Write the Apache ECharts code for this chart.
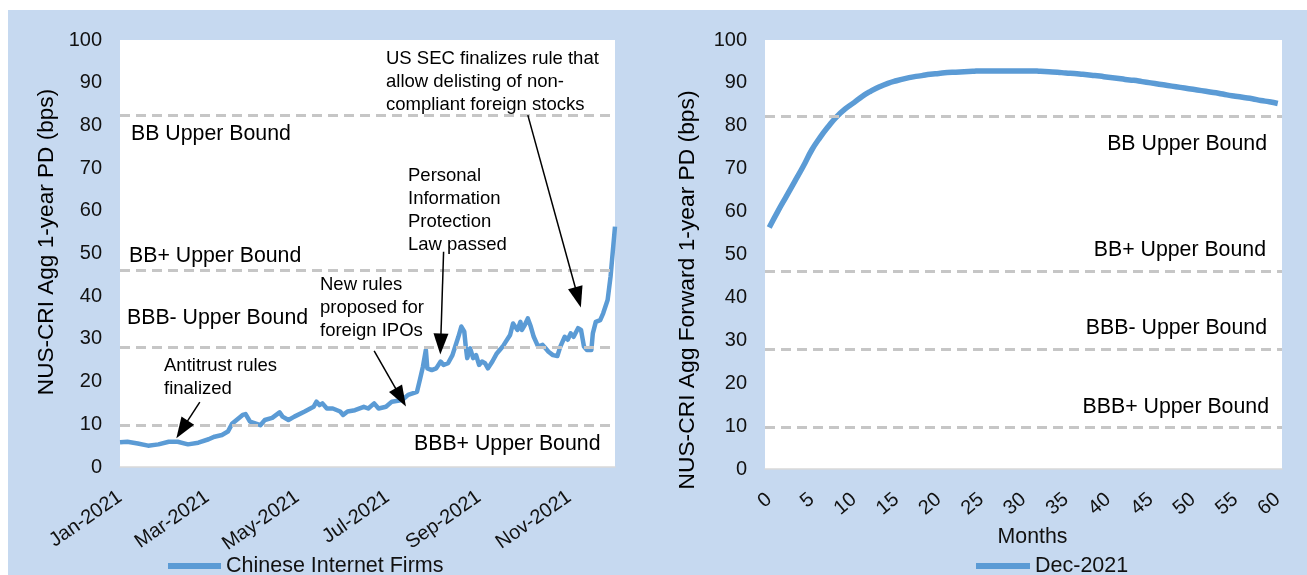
<!DOCTYPE html>
<html>
<head>
<meta charset="utf-8">
<script src="https://cdn.jsdelivr.net/npm/echarts@6/dist/echarts.min.js"></script>
<style>
  html, body { margin: 0; padding: 0; background: #fff; }
  #chart { width: 1307px; height: 575px; }
</style>
</head>
<body>
<div id="chart"></div>
<script>
// left panel: readings of the aggregate PD (bps)
const firmDates = [
  '2021-01-01','2021-01-06','2021-01-13','2021-01-20','2021-01-27','2021-02-03','2021-02-09','2021-02-16','2021-02-23',
  '2021-03-02','2021-03-06','2021-03-11','2021-03-15','2021-03-18','2021-03-25','2021-03-27','2021-03-30',
  '2021-04-06','2021-04-09','2021-04-14','2021-04-19','2021-04-21','2021-04-25','2021-04-29',
  '2021-05-06','2021-05-12','2021-05-14','2021-05-16','2021-05-18','2021-05-21','2021-05-25','2021-05-30',
  '2021-06-01','2021-06-04','2021-06-09','2021-06-15','2021-06-18','2021-06-22','2021-06-25','2021-06-30',
  '2021-07-04','2021-07-11','2021-07-15','2021-07-21','2021-07-23','2021-07-25','2021-07-27','2021-07-28','2021-07-31',
  '2021-08-03','2021-08-06','2021-08-08','2021-08-11','2021-08-14','2021-08-18','2021-08-20','2021-08-22','2021-08-23',
  '2021-08-24','2021-08-26','2021-08-28','2021-08-30',
  '2021-09-01','2021-09-03','2021-09-05','2021-09-07','2021-09-10','2021-09-13','2021-09-17','2021-09-19','2021-09-22',
  '2021-09-24','2021-09-27','2021-09-29','2021-09-30',
  '2021-10-02','2021-10-04','2021-10-06','2021-10-08','2021-10-11','2021-10-14','2021-10-16','2021-10-18','2021-10-21',
  '2021-10-24','2021-10-26','2021-10-29','2021-10-31',
  '2021-11-02','2021-11-04','2021-11-07','2021-11-09','2021-11-11','2021-11-13','2021-11-16','2021-11-17','2021-11-19',
  '2021-11-22','2021-11-24','2021-11-27','2021-11-29','2021-11-30','2021-12-02'
];
const firmPD = [
  5.8, 5.9, 5.5, 5.0, 5.3, 5.9, 5.9, 5.3, 5.7,
  6.5, 7.1, 7.5, 8.3, 10.2, 12.2, 12.4, 10.6,
  9.8, 11.0, 11.5, 12.8, 11.8, 11.0, 11.8,
  13.0, 14.1, 15.3, 14.5, 14.9, 13.7, 13.7, 13.0,
  12.2, 13.0, 13.3, 14.1, 13.7, 14.9, 13.7, 14.1,
  15.3, 15.7, 16.9, 17.6, 20.5, 23.5, 27.4, 23.1, 22.7,
  23.1, 24.7, 23.9, 24.3, 26.2, 30.5, 32.9, 31.7, 28.2,
  25.5, 27.8, 25.5, 26.2,
  23.9, 24.7, 24.3, 23.1, 24.7, 26.6, 28.2, 29.3, 30.9,
  33.6, 32.1, 34.0, 32.1,
  33.3, 34.8, 32.9, 30.5, 28.2, 28.6, 27.8, 27.0, 26.2,
  26.0, 28.2, 30.5, 29.8,
  31.3, 30.5, 32.5, 32.1, 28.2, 27.4, 27.4, 31.3, 34.0,
  34.4, 36.0, 39.1, 44.6, 48.5, 56.3
];

// right panel: forward PD term structure, months 0..60
const months = [];
for (let i = 0; i <= 60; i++) months.push(String(i));
const forwardPD = [
  56.3, 60.0, 63.5, 67.0, 70.5, 74.3, 77.3, 79.9, 82.2, 84.0,
  85.4, 86.9, 88.1, 89.1, 89.9, 90.5, 91.0, 91.4, 91.7, 92.0,
  92.2, 92.4, 92.5, 92.6, 92.7, 92.8, 92.8, 92.8, 92.8, 92.8,
  92.8, 92.8, 92.7, 92.6, 92.5, 92.3, 92.2, 92.0, 91.8, 91.6,
  91.3, 91.1, 90.8, 90.6, 90.3, 90.0, 89.7, 89.4, 89.1, 88.8,
  88.5, 88.2, 87.9, 87.6, 87.2, 86.9, 86.6, 86.3, 85.9, 85.6, 85.2
];

// rating upper bounds (bps)
const boundNames = ['BB Upper Bound', 'BB+ Upper Bound', 'BBB- Upper Bound', 'BBB+ Upper Bound'];
const boundValues = [82.3, 46.1, 28.0, 9.8];

const xLabelDates = ['2021-01-01', '2021-03-01', '2021-05-01', '2021-07-01', '2021-09-01', '2021-11-01'];
const monthNames = ['Jan','Feb','Mar','Apr','May','Jun','Jul','Aug','Sep','Oct','Nov','Dec'];

// event arrows: [from date, from value, to date, to value]
const arrows = [
  ['2021-02-24', 15.2, '2021-02-12', 8.8],
  ['2021-06-22', 27.2, '2021-07-10', 16.3],
  ['2021-08-08', 50.4, '2021-08-06', 28.8],
  ['2021-10-04', 82.4, '2021-11-07', 39.7]
];

const FONT = "'Liberation Sans', Arial, sans-serif";
const LINE_BLUE = '#5B9BD5';
const DASH_GRAY = '#C6C6C6';
const pd = s => echarts.number.parseDate(s).getTime();

const chart = echarts.init(document.getElementById('chart'));

function yAxisFor(grid) {
  return {
    type: 'value', gridIndex: grid, min: 0, max: 100, interval: 10,
    splitLine: { show: false }, axisLine: { show: false }, axisTick: { show: false },
    axisLabel: { fontSize: 20, color: '#111', fontFamily: FONT, margin: 18 }
  };
}

function boundLines() {
  return {
    silent: true, symbol: 'none',
    label: { show: false },
    lineStyle: { type: [10, 6], color: DASH_GRAY, width: 3 },
    data: boundValues.map(v => ({ yAxis: v }))
  };
}

function txt(text, x, y, opts) {
  return {
    type: 'text', x: x, y: y, z: 100,
    style: Object.assign({
      text: text, fill: '#000', fontFamily: FONT, fontSize: 18.5,
      align: 'left', verticalAlign: 'top', lineHeight: 23
    }, opts || {})
  };
}
const bound = (i, x, y, align) => txt(boundNames[i], x, y, { align: align, verticalAlign: 'middle', fontSize: 21.3 });

const leftTitle = txt('NUS-CRI Agg 1-year PD (bps)', 47, 242, { align: 'center', verticalAlign: 'middle', fontSize: 22.6, lineHeight: 24 });
leftTitle.rotation = Math.PI / 2;
const rightTitle = txt('NUS-CRI Agg Forward 1-year PD (bps)', 688, 290, { align: 'center', verticalAlign: 'middle', fontSize: 22.8, lineHeight: 24 });
rightTitle.rotation = Math.PI / 2;

const legendBase = {
  icon: 'rect', itemHeight: 6, padding: 0, top: 555,
  textStyle: { fontSize: 21.5, color: '#111', fontFamily: FONT }
};

const option = {
  animation: false,
  backgroundColor: '#C6D9F0',
  grid: [
    { left: 120, top: 40, width: 495, height: 427, show: true, backgroundColor: '#fff', borderWidth: 0, outerBoundsMode: 'none' },
    { left: 765, top: 40, width: 517, height: 429, show: true, backgroundColor: '#fff', borderWidth: 0, outerBoundsMode: 'none' }
  ],
  xAxis: [
    {
      type: 'value', gridIndex: 0, min: pd('2021-01-01'), max: pd('2021-12-02'),
      splitLine: { show: false }, axisTick: { show: false },
      axisLine: { lineStyle: { color: '#D9D9D9', width: 1.5 } },
      axisLabel: {
        customValues: xLabelDates.map(pd),
        formatter: v => { const d = new Date(v); return monthNames[d.getMonth()] + '-' + d.getFullYear(); },
        rotate: 35, margin: 28, fontSize: 20, color: '#111', fontFamily: FONT
      }
    },
    {
      type: 'category', gridIndex: 1, data: months, boundaryGap: true,
      axisTick: { show: false },
      axisLine: { lineStyle: { color: '#D9D9D9', width: 1.5 } },
      axisLabel: { interval: 4, rotate: 40, margin: 28, fontSize: 20, color: '#111', fontFamily: FONT },
      name: 'Months', nameLocation: 'middle', nameGap: 58, nameMoveOverlap: false,
      nameTextStyle: { fontSize: 21.3, color: '#111', fontFamily: FONT, padding: [0, 0, 0, 18] }
    }
  ],
  yAxis: [yAxisFor(0), yAxisFor(1)],
  legend: [
    Object.assign({ data: ['Chinese Internet Firms'], left: 168, itemWidth: 53 }, legendBase),
    Object.assign({ data: ['Dec-2021'], left: 976, itemWidth: 54 }, legendBase)
  ],
  series: [
    { name: 'bounds-left', type: 'line', xAxisIndex: 0, yAxisIndex: 0, data: [], z: 1, markLine: boundLines() },
    {
      name: 'events', type: 'line', xAxisIndex: 0, yAxisIndex: 0, data: [], z: 4,
      markLine: {
        silent: true, symbol: ['none', 'triangle'], symbolSize: [15, 21],
        label: { show: false },
        lineStyle: { type: 'solid', color: '#000', width: 1.5 },
        itemStyle: { color: '#000' },
        data: arrows.map(a => [{ coord: [pd(a[0]), a[1]] }, { coord: [pd(a[2]), a[3]] }])
      }
    },
    {
      name: 'Chinese Internet Firms', type: 'line', xAxisIndex: 0, yAxisIndex: 0, z: 3,
      symbol: 'none', color: LINE_BLUE,
      lineStyle: { width: 4.5, color: LINE_BLUE, join: 'round' },
      data: firmDates.map((d, i) => [pd(d), firmPD[i]])
    },
    { name: 'bounds-right', type: 'line', xAxisIndex: 1, yAxisIndex: 1, data: [], z: 1, markLine: boundLines() },
    {
      name: 'Dec-2021', type: 'line', xAxisIndex: 1, yAxisIndex: 1, z: 3,
      symbol: 'none', color: LINE_BLUE, smooth: true,
      lineStyle: { width: 5.5, color: LINE_BLUE },
      data: forwardPD
    }
  ],
  graphic: [
    { type: 'rect', shape: { x: 0, y: 0, width: 1307, height: 10 }, style: { fill: '#fff' }, z: 100 },
    { type: 'rect', shape: { x: 0, y: 0, width: 8, height: 575 }, style: { fill: '#fff' }, z: 100 },
    leftTitle,
    rightTitle,
    // left bound labels
    bound(0, 131, 134, 'left'),
    bound(1, 129, 256, 'left'),
    bound(2, 127, 318, 'left'),
    bound(3, 414, 444, 'left'),
    // right bound labels
    bound(0, 1267, 144, 'right'),
    bound(1, 1266, 250, 'right'),
    bound(2, 1267, 328, 'right'),
    bound(3, 1269, 407, 'right'),
    // event notes
    txt('US SEC finalizes rule that\nallow delisting of non-\ncompliant foreign stocks', 386, 47),
    txt('Personal\nInformation\nProtection\nLaw passed', 408, 164),
    txt('New rules\nproposed for\nforeign IPOs', 320, 273),
    txt('Antitrust rules\nfinalized', 164, 354)
  ]
};

chart.setOption(option);
</script>
</body>
</html>
